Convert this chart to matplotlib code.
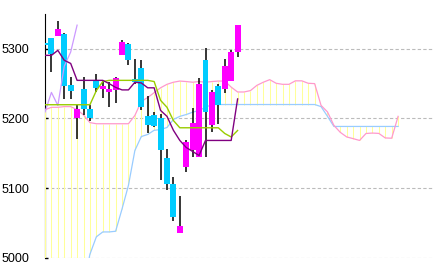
import numpy as np
import matplotlib.pyplot as plt

# daily candles, oldest first (index 0 sits on the left edge)
opens = [5308, 5315.5, 5318.4, 5321.9, 5247.5, 5200.4, 5241.7, 5213, 5253.7, 5241.7,
         5237.8, 5240.3, 5290.6, 5306.5, 5257, 5272.4, 5203.3, 5204.3, 5201, 5143,
         5106, 5035, 5130, 5155, 5144.3, 5283.5, 5191, 5246, 5241.7, 5253.7, 5295.4]
highs = [5312, 5316, 5340, 5322, 5259.4, 5220, 5259, 5218.7, 5263.3, 5254,
         5252, 5259.4, 5312, 5308, 5286, 5283.5, 5231.7, 5209, 5207, 5156.4,
         5115.6, 5088, 5169.4, 5215.4, 5258.6, 5301.7, 5240.3, 5249, 5286, 5299, 5334]
lows = [5300, 5266.6, 5318.4, 5228.4, 5228.3, 5170, 5204.3, 5197, 5237.4, 5230,
        5216, 5221.6, 5290.6, 5277.3, 5250, 5211.5, 5179, 5187, 5112, 5097.8,
        5053, 5035, 5123, 5145, 5144, 5145.3, 5180, 5192.4, 5236.4, 5253.7, 5288]
closes = [5305, 5293, 5328, 5246.5, 5238.9, 5213, 5213, 5200.4, 5243.6, 5246.5,
          5241.7, 5257.6, 5309.8, 5284.5, 5252, 5216.3, 5190, 5188.5, 5154, 5106,
          5059, 5046, 5166, 5193, 5250, 5209, 5237.4, 5218.7, 5275, 5295.4, 5334]

# conversion / base lines (same length as candles)
tenkan = [5290.6, 5290.6, 5297.8, 5283.5, 5279, 5254.7, 5254.7, 5254.7, 5254.7, 5254.7,
          5250, 5244.6, 5241, 5241, 5252, 5251, 5244, 5244, 5211.5, 5203,
          5183, 5168.4, 5158.3, 5152.5, 5146.8, 5168.4, 5168.4, 5168.4, 5168.4, 5168.4, 5228]
kijun = [5219.7] * 8 + [5240, 5253] + [5254.7] * 7 + [5253, 5226, 5216, 5197] \
    + [5186.6] * 7 + [5178.4, 5173.4, 5182.7]

# leading spans, 56 points (25 bars ahead of the last candle)
senkou_a = [5212.5, 5216, 5216, 5217, 5217, 5212.5, 5205, 5194] + [5192.4] * 6 \
    + [5204.3, 5224.5, 5230, 5237, 5244, 5249, 5252, 5253.7, 5253, 5252,
       5253, 5252, 5253, 5253.7, 5253.7, 5245, 5238, 5238, 5240, 5247.5,
       5252, 5255.7, 5250.5, 5249, 5249, 5254, 5254, 5250.5, 5250, 5218.7,
       5209.4, 5190, 5180, 5173.4, 5171, 5168.4, 5178.4, 5179, 5178.5, 5172,
       5171.6, 5203]
senkou_b = [4960] * 7 + [5005, 5030, 5037, 5037, 5038, 5070, 5104, 5154, 5174, 5177,
                         5183, 5184, 5187, 5198.5, 5203, 5205.6, 5209, 5211.5, 5216] \
    + [5220] * 17 + [5217, 5203] + [5188.5] * 11

lag = 25
ticks = [5000, 5100, 5200, 5300]

W, H = 434, 271
fig = plt.figure(figsize=(W / 100, H / 100), dpi=100)
ax = fig.add_axes([45 / W, (H - 257.7) / H, (W - 45) / W, (257.7 - 14) / H])

o = np.array(opens)
c = np.array(closes)
xc = np.arange(len(o))
xs = np.arange(len(senkou_a))
sa = np.array(senkou_a)
sb = np.array(senkou_b)

# cloud
ax.vlines(xs, np.minimum(sa, sb), np.maximum(sa, sb), color="#FFFF99", lw=0.75, zorder=1)
ax.plot(xs, sb, color="#99CCFF", lw=0.9, zorder=2)
ax.plot(xs, sa, color="#FF99CC", lw=0.9, zorder=2)

# candles
up = c >= o
ax.vlines(xc, lows, highs, color="black", lw=1.1, zorder=3)
ax.bar(xc, np.abs(c - o), bottom=np.minimum(o, c), width=0.93,
       color=np.where(up, "#FF00FF", "#00CCFF"), zorder=4)

# lines
ax.plot(xc - lag, c, color="#CC99FF", lw=0.9, zorder=5)
ax.plot(xc, kijun, color="#99CC00", lw=1.0, zorder=5)
ax.plot(xc, tenkan, color="#800080", lw=1.0, zorder=5)

ax.set_xlim(0, (W - 45) / 6.42)
ax.set_ylim(5000, 5350)
ax.set_xticks([])
ax.set_yticks(ticks)
ax.set_yticklabels([str(t) for t in ticks],
                   family=["Liberation Sans Narrow", "Liberation Sans", "DejaVu Sans"],
                   fontsize=9)
ax.tick_params(axis="y", direction="in", length=2.5, width=1.0, color="black", pad=11)
ax.set_axisbelow(True)
ax.grid(axis="y", color="#BBBBBB", lw=0.8, dashes=(3, 2))
for side in ["top", "right", "bottom"]:
    ax.spines[side].set_visible(False)
ax.spines["left"].set_linewidth(0.8)
ax.spines["left"].set_zorder(0.8)
ax.patch.set_alpha(0)

fig.savefig("out.png", dpi=100)
